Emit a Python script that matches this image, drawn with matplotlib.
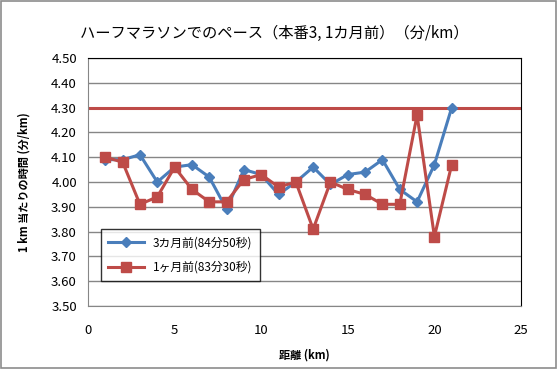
import matplotlib
matplotlib.use("Agg")
import matplotlib.pyplot as plt
from matplotlib.patches import Rectangle

plt.rcParams["font.family"] = ["Noto Sans CJK JP", "DejaVu Sans"]

km = list(range(1, 22))
pace_3m = [4.09, 4.09, 4.11, 4.00, 4.06, 4.07, 4.02, 3.89, 4.05, 4.03, 3.95,
           4.00, 4.06, 3.99, 4.03, 4.04, 4.09, 3.97, 3.92, 4.07, 4.30]
pace_1m = [4.10, 4.08, 3.91, 3.94, 4.06, 3.97, 3.92, 3.92, 4.01, 4.03, 3.98,
           4.00, 3.81, 4.00, 3.97, 3.95, 3.91, 3.91, 4.27, 3.78, 4.07]
target = 4.30
label_3m = "3カ月前(84分50秒)"
label_1m = "1ヶ月前(83分30秒)"
title = "ハーフマラソンでのペース（本番3, 1カ月前）（分/km）"

BLUE = "#4A7EBB"
RED = "#BE4B48"

fig = plt.figure(figsize=(5.58, 3.69), dpi=100)
fig.patches.append(Rectangle((0.002, 0.003), 0.995, 0.994, transform=fig.transFigure,
                             fill=False, edgecolor="#8c8c8c", linewidth=1.2))
ax = fig.add_axes([88 / 558, 1 - 306 / 369, (521 - 88) / 558, (306 - 58) / 369])

ax.plot(km, pace_3m, color=BLUE, linewidth=2.2, marker="D", markersize=5,
        label=label_3m, zorder=3)
ax.plot(km, pace_1m, color=RED, linewidth=2.2, marker="s", markersize=7,
        label=label_1m, zorder=3)
ax.axhline(target, color=RED, linewidth=2.2, zorder=2)

ax.set_xlim(0, 25)
ax.set_ylim(3.5, 4.5)
ax.set_xticks(range(0, 26, 5))
ax.set_yticks([3.5 + 0.1 * i for i in range(11)])
ax.yaxis.set_major_formatter(matplotlib.ticker.FormatStrFormatter("%.2f"))
ax.grid(True, axis="y", color="#868686", linewidth=1)
ax.tick_params(axis="y", length=0, labelsize=9.5, pad=8)
ax.tick_params(axis="x", length=0, labelsize=9.5, pad=13)
for side in ["top", "right"]:
    ax.spines[side].set_color("black")
for side in ["left", "bottom"]:
    ax.spines[side].set_color("#868686")

ax.set_xlabel("距離 (km)", fontsize=8, fontweight="bold", labelpad=8)
ax.set_ylabel("1 km 当たりの時間 (分/km)", fontsize=8, fontweight="bold", labelpad=15)
fig.text(0.492, 1 - 33 / 369, title, ha="center", va="center", fontsize=11)

leg = ax.legend(loc="upper left", bbox_to_anchor=(13 / 433, 1 - (229 - 58) / 248),
                borderaxespad=0, fontsize=8.5, frameon=True, fancybox=False,
                edgecolor="black", borderpad=0.6, handlelength=3, labelspacing=1.0)
leg.get_frame().set_linewidth(1)

fig.savefig("out.png", dpi=100)
